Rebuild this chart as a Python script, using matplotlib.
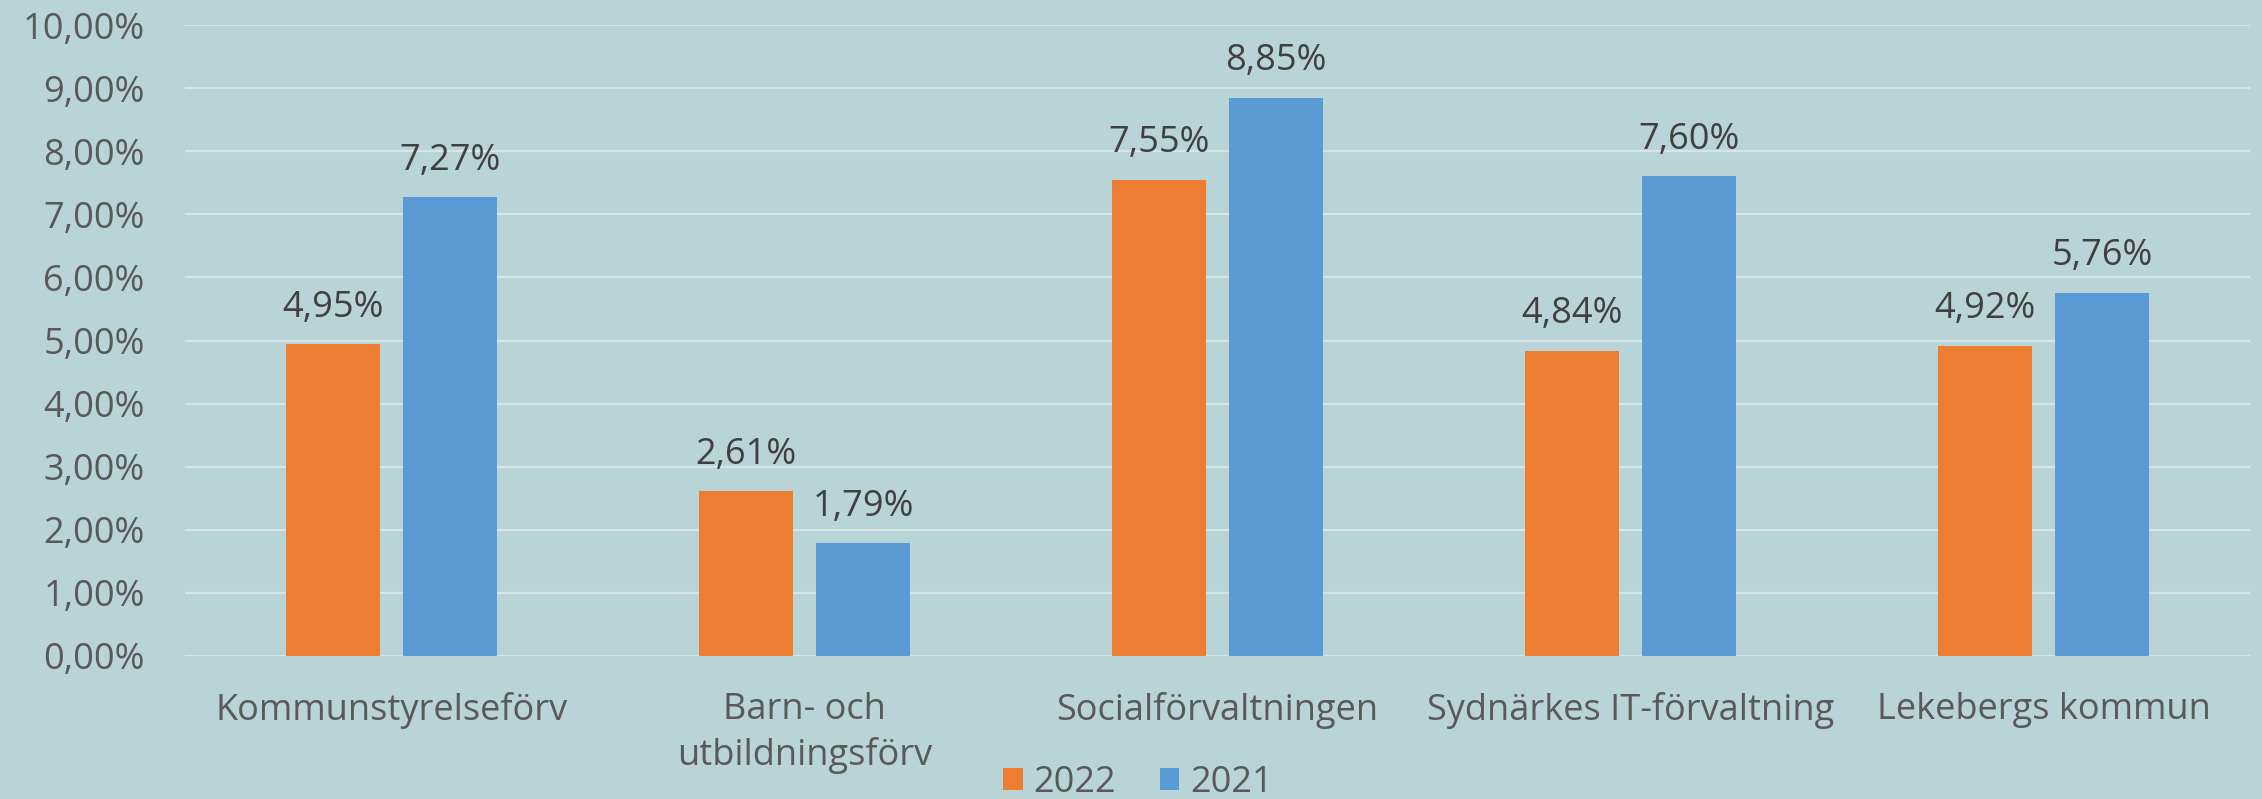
import matplotlib.pyplot as plt
import numpy as np

BG     = "#B9D4D7"
GRID   = "#D6E6E8"
ORANGE = "#ED7D31"
BLUE   = "#5B9BD5"
TXT    = "#404040"
TICK   = "#595959"

# ── Data ──────────────────────────────────────────────────────────────────────
categories = ['Kommunstyrelseförv', 'Barn- och\nutbildningsförv',
              'Socialförvaltningen', 'Sydnärkes IT-förvaltning',
              'Lekebergs kommun']
values_2022 = [4.95, 2.61, 7.55, 4.84, 4.92]
values_2021 = [7.27, 1.79, 8.85, 7.60, 5.76]
series_names = ['2022', '2021']
yticks = [0, 1, 2, 3, 4, 5, 6, 7, 8, 9, 10]

plt.rcParams['font.family'] = ['Open Sans', 'DejaVu Sans']
FS = 26

W, H = 2262, 799
fig = plt.figure(figsize=(W / 100, H / 100), dpi=100)
fig.patch.set_facecolor(BG)

left, right = 185, 2250
top, bottom = 25, 656
ax = fig.add_axes([left / W, 1 - bottom / H, (right - left) / W, (bottom - top) / H])
ax.set_facecolor(BG)

x = np.arange(len(categories))
bw, off = 0.227, 0.1415
b1 = ax.bar(x - off, values_2022, bw, color=ORANGE, label=series_names[0], zorder=3)
b2 = ax.bar(x + off, values_2021, bw, color=BLUE, label=series_names[1], zorder=3)

for bars in (b1, b2):
    for r in bars:
        v = r.get_height()
        ax.annotate(f"{v:.2f}%".replace('.', ','),
                    (r.get_x() + r.get_width() / 2, v),
                    xytext=(0, 26), textcoords='offset points',
                    ha='center', va='center', fontsize=FS, color=TXT)

ax.set_xlim(-0.5, 4.5)
ax.set_ylim(0, 10)
ax.set_yticks(yticks)
ax.set_yticklabels([f"{t},00%" for t in yticks], fontsize=FS, color=TICK)
ax.yaxis.grid(True, color=GRID, lw=1.5, zorder=0)
ax.set_xticks(x)
ax.set_xticklabels(categories, fontsize=FS, color=TICK, linespacing=1.3, va='top')
ax.tick_params(axis='both', length=0)
ax.tick_params(axis='y', pad=29)
ax.tick_params(axis='x', pad=26)
for s in ax.spines.values():
    s.set_visible(False)

leg = fig.legend(handles=[b1, b2], labels=series_names,
                 loc='center', bbox_to_anchor=(1138 / W, 1 - 783 / H),
                 ncol=2, frameon=False, fontsize=FS, labelcolor=TICK,
                 handlelength=0.55, handleheight=0.55, handletextpad=0.3,
                 columnspacing=1.2, borderpad=0)

plt.savefig('out.png', dpi=100, facecolor=BG)
